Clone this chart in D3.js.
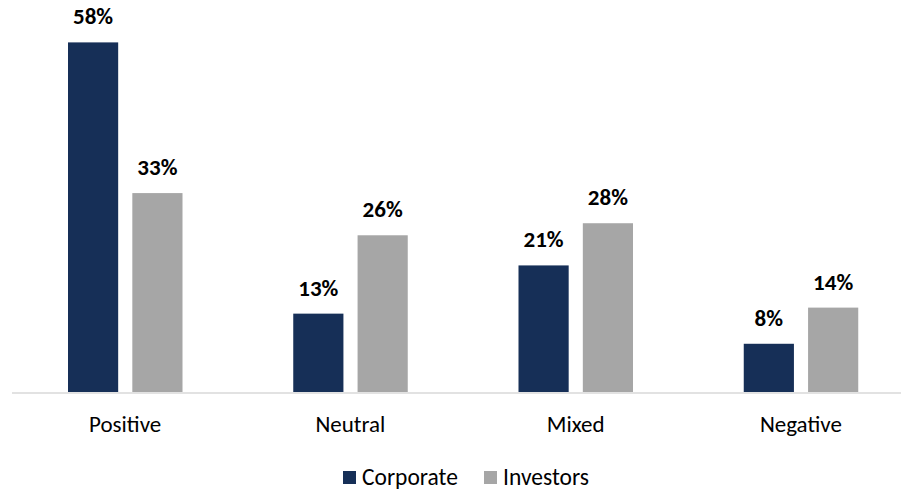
<!DOCTYPE html>
<html>
<head>
<meta charset="utf-8">
<script src="https://cdn.jsdelivr.net/npm/d3@7"></script>
<style>
  html, body { margin: 0; padding: 0; background: #fff; }
  svg { display: block; font-family: Carlito, "Open Sans", "Noto Sans", sans-serif; }
</style>
</head>
<body>
<svg id="chart" width="901" height="491"></svg>
<script>
// Sentiment categories and the two respondent groups
const categories = ["Positive", "Neutral", "Mixed", "Negative"];
const seriesNames = ["Corporate", "Investors"];
const corporate = [58, 13, 21, 8];
const investors = [33, 26, 28, 14];
const seriesColors = ["#162F57", "#A6A6A6"];

const W = 901, H = 491;
const baseY = 392;
const fontFamily = 'Carlito, "Open Sans", "Noto Sans", sans-serif';

const svg = d3.select("#chart");

const x = d3.scaleBand()
  .domain(categories)
  .range([12.5, 913.5])
  .paddingInner(0)
  .paddingOuter(0);

const xInner = d3.scaleBand()
  .domain(seriesNames)
  .range([55.5, 170])
  .paddingInner(0.22)
  .paddingOuter(0);

const y = d3.scaleLinear()
  .domain([0, 65])
  .range([baseY, 0.2]);

const rows = categories.map((c, i) => ({
  category: c,
  values: [
    { series: seriesNames[0], value: corporate[i] },
    { series: seriesNames[1], value: investors[i] }
  ]
}));

const color = d3.scaleOrdinal().domain(seriesNames).range(seriesColors);

// bars
const groups = svg.append("g").selectAll("g")
  .data(rows)
  .join("g")
  .attr("transform", d => `translate(${x(d.category)},0)`);

groups.selectAll("rect")
  .data(d => d.values)
  .join("rect")
  .attr("x", d => xInner(d.series))
  .attr("y", d => y(d.value))
  .attr("width", xInner.bandwidth())
  .attr("height", d => y(0) - y(d.value))
  .attr("fill", d => color(d.series));

// value labels
groups.selectAll("text.val")
  .data(d => d.values)
  .join("text")
  .attr("class", "val")
  .attr("x", d => xInner(d.series) + xInner.bandwidth() / 2)
  .attr("y", d => y(d.value) - 18)
  .attr("text-anchor", "middle")
  .attr("font-size", 23)
  .attr("font-weight", "bold")
  .attr("fill", "#000")
  .text(d => d.value + "%");

// category axis
const xAxis = d3.axisBottom(x).tickSize(0).tickPadding(0);
const axisG = svg.append("g")
  .attr("transform", `translate(0,${baseY + 1})`)
  .call(xAxis);
axisG.select(".domain").remove();
axisG.append("line")
  .attr("x1", 12).attr("x2", W)
  .attr("y1", 0).attr("y2", 0)
  .attr("stroke", "#D9D9D9")
  .attr("stroke-width", 1.5);
axisG.selectAll(".tick text")
  .attr("dy", null)
  .attr("y", 39)
  .attr("font-size", 23)
  .attr("font-family", fontFamily)
  .attr("fill", "#000");

// legend
const legend = svg.append("g");
const legendItems = [
  { name: seriesNames[0], x: 343 },
  { name: seriesNames[1], x: 484 }
];
const li = legend.selectAll("g")
  .data(legendItems)
  .join("g")
  .attr("transform", d => `translate(${d.x},471)`);
li.append("rect")
  .attr("width", 13).attr("height", 13)
  .attr("fill", d => color(d.name));
li.append("text")
  .attr("x", 19)
  .attr("y", 13.5)
  .attr("font-size", 23.5)
  .attr("fill", "#000")
  .text(d => d.name);
</script>
</body>
</html>
